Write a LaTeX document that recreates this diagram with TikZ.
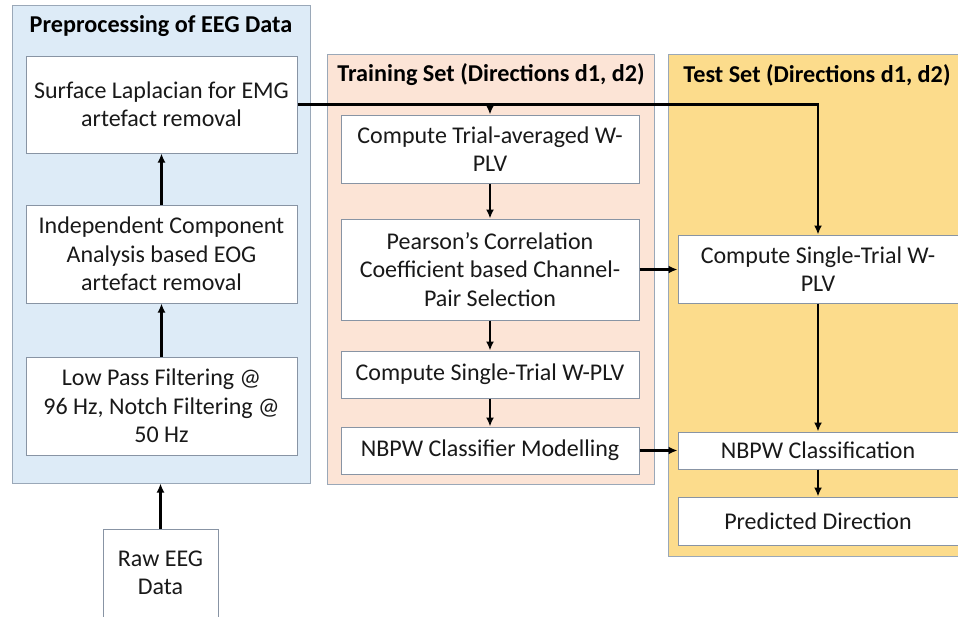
\documentclass[tikz,border=0pt]{standalone}
\usepackage{fontspec}
\setmainfont{Carlito}
\usetikzlibrary{arrows.meta}
\definecolor{pblue}{HTML}{DDEBF7}
\definecolor{ppeach}{HTML}{FCE4D6}
\definecolor{pyellow}{HTML}{FCDC8C}
\definecolor{pborder}{HTML}{9AA8B8}
\definecolor{bborder}{HTML}{8894A4}
\begin{document}
\begin{tikzpicture}[x=1pt,y=-1pt,
  panel/.style={draw=pborder,line width=1pt,inner sep=0pt},
  box/.style={draw=bborder,fill=white,line width=1pt,align=center,inner sep=0pt,
    font=\fontsize{24}{28.5}\selectfont,text=black!90},
  ptitle/.style={font=\bfseries\fontsize{24.2}{28}\selectfont,text=black},
  arr/.style={line width=2.2pt,-{Latex[length=9pt,width=8pt]}}]
\useasboundingbox (0,0) rectangle (958,616);
% panels
\node[panel,fill=pblue,minimum width=298,minimum height=478] (pp) at (161,244) {};
\node[panel,fill=ppeach,minimum width=327,minimum height=430] (tp) at (490.5,269) {};
\node[panel,fill=pyellow,minimum width=300,minimum height=502] (sp) at (818,305) {};
% titles
\node[ptitle] (ppt) at (161,26) {Preprocessing of EEG Data};
\node[ptitle] (tpt) at (491,75) {Training Set (Directions d1, d2)};
\node[ptitle] (spt) at (817,75) {Test Set (Directions d1, d2)};
% preprocessing boxes
\node[box,minimum width=271,minimum height=97] (b1) at (161.5,104.5) {Surface Laplacian for EMG\\artefact removal};
\node[box,minimum width=271,minimum height=98] (b2) at (161.5,254) {Independent Component\\Analysis based EOG\\artefact removal};
\node[box,minimum width=271,minimum height=98] (b3) at (161.5,406) {Low Pass Filtering @\\96 Hz, Notch Filtering @\\50 Hz};
\node[box,minimum width=115,minimum height=88] (raw) at (160.5,573) {Raw EEG\\Data};
% training boxes
\node[box,minimum width=298,minimum height=68] (t1) at (490,149) {Compute Trial-averaged W-\\PLV};
\node[box,minimum width=298,minimum height=101] (t2) at (490,269.5) {Pearson’s Correlation\\Coefficient based Channel-\\Pair Selection};
\node[box,minimum width=298,minimum height=47] (t3) at (490,374.5) {Compute Single-Trial W-PLV};
\node[box,minimum width=298,minimum height=47] (t4) at (490,450.5) {NBPW Classifier Modelling};
% test boxes
\node[box,minimum width=280,minimum height=68] (s1) at (818,269) {Compute Single-Trial W-\\PLV};
\node[box,minimum width=280,minimum height=37] (s2) at (818,450.5) {NBPW Classification};
\node[box,minimum width=280,minimum height=48] (s3) at (818,521) {Predicted Direction};
% connectors
\draw[arr] (raw.north) -- (raw.north |- pp.south);
\draw[arr] (b3.north) -- (b2.south);
\draw[arr] (b2.north) -- (b1.south);
\draw[arr] (b1.east) -| (s1.north);
\draw[arr] (t1.north |- b1.east) -- (t1.north);
\draw[arr] (t1.south) -- (t2.north);
\draw[arr] (t2.south) -- (t3.north);
\draw[arr] (t3.south) -- (t4.north);
\draw[arr] (t2.east) -- (t2.east -| s1.west);
\draw[arr] (t4.east) -- (t4.east -| s2.west);
\draw[arr] (s1.south) -- (s2.north);
\draw[arr] (s2.south) -- (s3.north);
\end{tikzpicture}
\end{document}
